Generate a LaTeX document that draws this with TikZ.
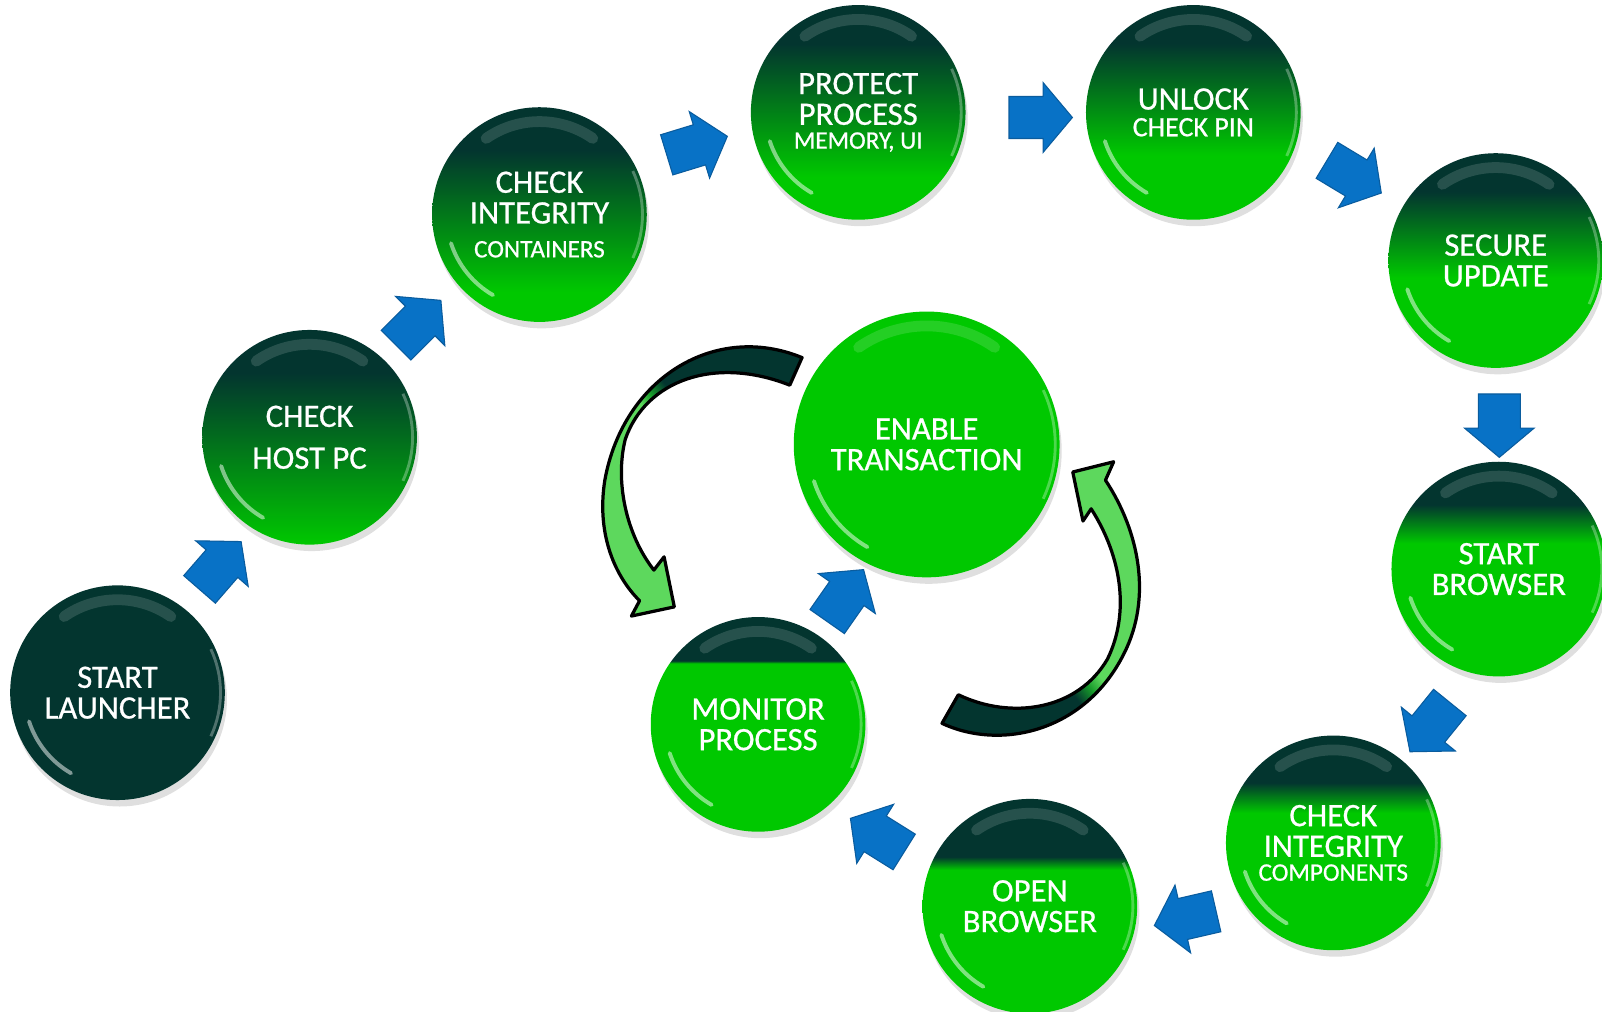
\documentclass[tikz,border=0pt]{standalone}
\usepackage{fontspec}
\setmainfont{Carlito}[FakeBold=0.7]
\usetikzlibrary{shapes.arrows,shadows,calc}

\definecolor{gdark}{HTML}{03352F}
\definecolor{gbright}{HTML}{00C800}
\definecolor{agreen}{HTML}{5DD85D}
\definecolor{amid}{HTML}{179A2A}
\definecolor{ablue}{HTML}{0872C6}
\definecolor{abluedk}{HTML}{0A5C9E}

\newcommand{\levelshade}[3]{%
  \pgfdeclareverticalshading{#1}{100bp}{color(0bp)=(gbright); color(#2)=(gbright);
    color(#3)=(gdark); color(100bp)=(gdark)}}
\levelshade{lvhost}{25bp}{65bp}
\levelshade{lvcont}{32bp}{65bp}
\levelshade{lvprot}{35bp}{66bp}
\levelshade{lvunlk}{40bp}{66bp}
\levelshade{lvupdt}{46bp}{66bp}
\levelshade{lvstbr}{56bp}{65bp}
\levelshade{lvcomp}{57bp}{64bp}
\levelshade{lvopbr}{58.5bp}{61.5bp}
\levelshade{lvmoni}{64.2bp}{64.8bp}
\pgfdeclarehorizontalshading{twist}{100bp}{color(0bp)=(agreen); color(48.4bp)=(agreen);
  color(49.6bp)=(amid); color(51bp)=(gdark); color(100bp)=(gdark)}

\newcommand{\sm}[1]{{\fontsize{7}{8}\selectfont #1}}
\newcommand{\loopL}{(785,350) .. controls (700,315) and (610,370) .. (592,470)
  .. controls (584,520) and (600,562) .. (626,588) -- (618,603) -- (660,594)
  -- (650,545) -- (640,558) .. controls (612,522) and (602,470) .. (612,430)
  .. controls (632,372) and (700,348) .. (773,377) -- cycle}
\newcommand{\loopR}{(922,708) .. controls (980,735) and (1062,716) .. (1100,640)
  .. controls (1128,585) and (1115,520) .. (1082,470) -- (1090,452) -- (1050,462)
  -- (1060,510) -- (1068,498) .. controls (1098,545) and (1106,600) .. (1084,645)
  .. controls (1055,695) and (990,705) .. (938,680) -- cycle}

\tikzset{
  ball/.style={circle, minimum size=#1, inner sep=0pt, text=white, align=center,
    font=\fontsize{9.1}{8.54}\selectfont,
    drop shadow={opacity=.25, shadow xshift=.6pt, shadow yshift=-1.8pt},
    path picture={
      \pgfmathsetlengthmacro{\ra}{#1/2-4pt}
      \pgfmathsetlengthmacro{\rb}{#1/2-1.2pt}
      \coordinate (pc) at (path picture bounding box.center);
      \draw[white, opacity=.14, line width=3pt, line cap=round]
        ([shift={(55:\ra)}]pc) arc[start angle=55, end angle=125, radius=\ra];
      \draw[white, opacity=.5, line width=1.1pt, line cap=round]
        ([shift={(198:\ra)}]pc) arc[start angle=198, end angle=240, radius=\ra];
      \draw[white, opacity=.3, line width=.8pt]
        ([shift={(-25:\rb)}]pc) arc[start angle=-25, end angle=25, radius=\rb];
    }},
  ball/.default=2.1cm,
  lvl/.style={shading=#1},
  blk/.style={single arrow, fill=ablue, draw=abluedk, line width=.3pt,
    inner xsep=0pt, inner ysep=.2cm, minimum height=.62cm,
    single arrow head extend=.135cm, single arrow tip angle=100},
  loop/.style={draw=black, line width=.9pt, line join=round}
}

\begin{document}
\begin{tikzpicture}[x=.01cm, y=-.01cm]
\useasboundingbox (0,0) rectangle (1568,990.5);

\begin{scope}
  \clip \loopL;
  \shade[shading=twist, shading angle=38] (335,75) rectangle (935,675);
\end{scope}
\draw[loop] \loopL;
\begin{scope}
  \clip \loopR;
  \shade[shading=twist, shading angle=218] (772,388) rectangle (1372,988);
\end{scope}
\draw[loop] \loopR;

\node[ball, fill=gdark] (launch) at (115,678) {START\\LAUNCHER};
\node[ball, lvl=lvhost] (hostpc) at (303,428) {CHECK\\[3.1pt]HOST PC};
\node[ball, lvl=lvcont] (contain) at (528,210) {CHECK\\INTEGRITY\\[.9pt]\sm{CONTAINERS}};
\node[ball, lvl=lvprot] (protect) at (840,110) {PROTECT\\PROCESS\\[-1.9pt]\sm{MEMORY, UI}};
\node[ball, lvl=lvunlk] (unlock) at (1168,110) {UNLOCK\\[-1.1pt]{\fontsize{7.8}{8}\selectfont CHECK PIN}};
\node[ball, lvl=lvupdt] (update) at (1464,255) {SECURE\\UPDATE};
\node[ball, lvl=lvstbr] (startbr) at (1467,557) {START\\BROWSER};
\node[ball, lvl=lvcomp] (compon) at (1305,825) {CHECK\\INTEGRITY\\[-1.9pt]\sm{COMPONENTS}};
\node[ball, lvl=lvopbr] (openbr) at (1008,887) {OPEN\\BROWSER};
\node[ball, lvl=lvmoni] (monitor) at (742,709) {MONITOR\\PROCESS};
\node[ball=2.6cm, fill=gbright] (enable) at (907,435) {ENABLE\\TRANSACTION};

\foreach \s/\t/\a/\off in {launch/hostpc/49/{1,7}, hostpc/contain/45/{-12,3},
    contain/protect/17/{-10,-15}, protect/unlock/0/{6,5}, unlock/update/-31/{2,-14},
    update/startbr/-90/{2,2}, startbr/compon/-129/{19,14}, compon/openbr/193/{12,41},
    openbr/monitor/148/{-9,24}, monitor/enable/55/{-2,18}}
  \node[blk, rotate=\a] (\s-\t) at ($(\s)!.5!(\t)+(\off)$) {};
\end{tikzpicture}
\end{document}
